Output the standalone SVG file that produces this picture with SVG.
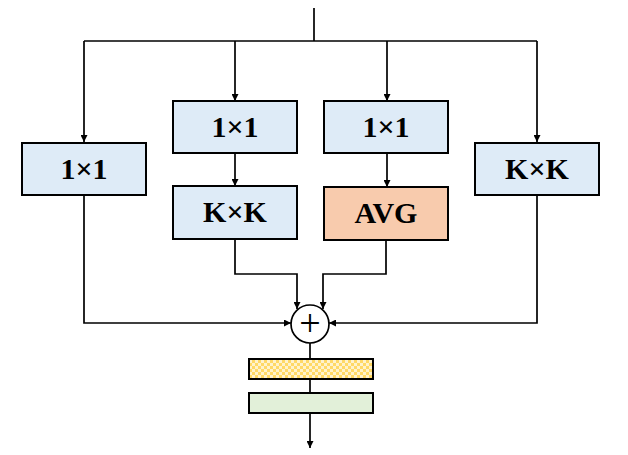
<svg xmlns="http://www.w3.org/2000/svg" width="628" height="455" viewBox="0 0 628 455">
<style>
.box{stroke:#000;stroke-width:2}
.blue{fill:#DEEBF7}
.orange{fill:#F8CBAD}
.green{fill:#E2F0D9}
.lbl{font-family:"Liberation Serif","Times New Roman",serif;font-weight:bold;font-size:30px;text-anchor:middle;fill:#000}
.conn{fill:none;stroke:#000;stroke-width:1.7}
</style>
<defs>
<marker id="arr" viewBox="0 0 10 10" refX="10" refY="5" markerWidth="7" markerHeight="7" markerUnits="userSpaceOnUse" orient="auto">
<path d="M0,0 L10,5 L0,10 z" fill="#000"/>
</marker>
<pattern id="chk" width="6" height="6" patternUnits="userSpaceOnUse">
<rect width="6" height="6" fill="#FFF3CC"/>
<rect width="3" height="3" fill="#FFD966"/>
<rect x="3" y="3" width="3" height="3" fill="#FFD966"/>
</pattern>
</defs>
<rect width="628" height="455" fill="#fff"/>
<g id="connectors">
<path class="conn" d="M314,8 V41"/>
<path class="conn" d="M84,41 H537"/>
<path class="conn" d="M84,41 V142" marker-end="url(#arr)"/>
<path class="conn" d="M235,41 V101" marker-end="url(#arr)"/>
<path class="conn" d="M387,41 V101" marker-end="url(#arr)"/>
<path class="conn" d="M537,41 V142" marker-end="url(#arr)"/>
<path class="conn" d="M235,154 V186" marker-end="url(#arr)"/>
<path class="conn" d="M387,154 V187" marker-end="url(#arr)"/>
<path class="conn" d="M84,195 V323 H291" marker-end="url(#arr)"/>
<path class="conn" d="M537,195 V323 H329" marker-end="url(#arr)"/>
<path class="conn" d="M235,239 V274 H297 V309" marker-end="url(#arr)"/>
<path class="conn" d="M386,240 V274 H323 V309" marker-end="url(#arr)"/>
<path class="conn" d="M310,343 V359"/>
<path class="conn" d="M310,379 V393"/>
<path class="conn" d="M310,413 V448" marker-end="url(#arr)"/>
</g>
<g id="node-left">
<rect class="box blue" x="22" y="143" width="124" height="52"/>
<text class="lbl" x="84" y="179">1×1</text>
</g>
<g id="node-mid1">
<rect class="box blue" x="173" y="101" width="124" height="52"/>
<text class="lbl" x="235" y="137">1×1</text>
</g>
<g id="node-mid2">
<rect class="box blue" x="324" y="101" width="124" height="52"/>
<text class="lbl" x="386" y="137">1×1</text>
</g>
<g id="node-right">
<rect class="box blue" x="475" y="143" width="124" height="52"/>
<text class="lbl" x="537" y="179">K×K</text>
</g>
<g id="node-kxk">
<rect class="box blue" x="173" y="186" width="124" height="53"/>
<text class="lbl" x="235" y="222">K×K</text>
</g>
<g id="node-avg">
<rect class="box orange" x="324" y="187" width="124" height="53"/>
<text class="lbl" x="386" y="223">AVG</text>
</g>
<g id="node-add">
<circle cx="310" cy="324" r="19" fill="#fff" stroke="#000" stroke-width="1.7"/>
<text x="310" y="336" font-family="Liberation Serif, serif" font-size="38" text-anchor="middle" fill="#000">+</text>
</g>
<g id="node-bar1">
<rect class="box" x="249" y="359" width="124" height="20" fill="url(#chk)"/>
</g>
<g id="node-bar2">
<rect class="box green" x="249" y="393" width="124" height="20"/>
</g>
</svg>
